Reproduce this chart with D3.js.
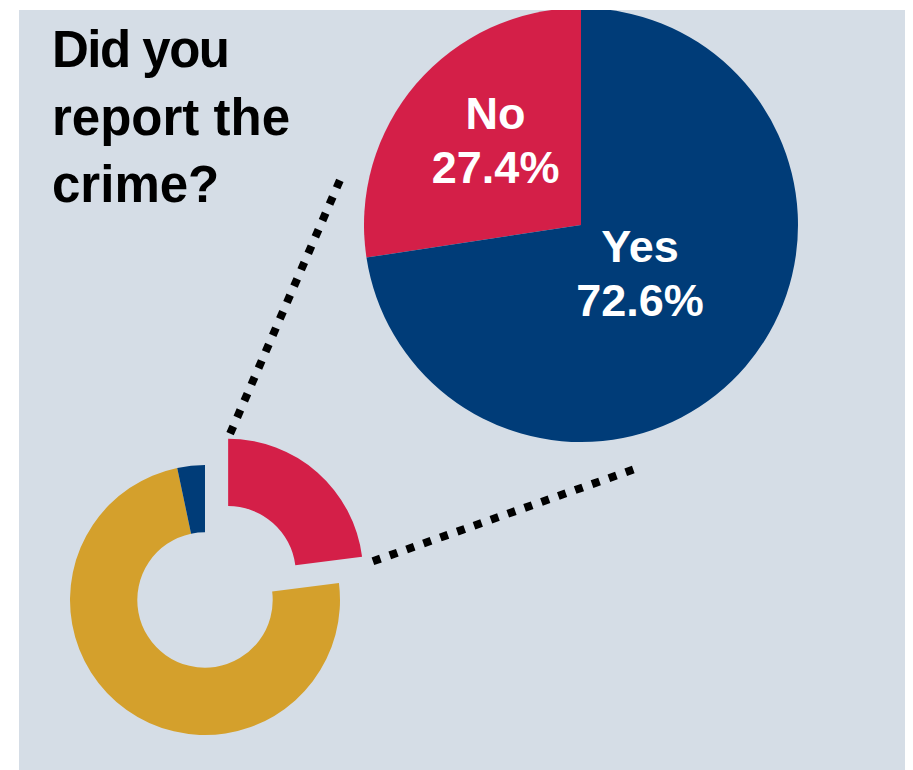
<!DOCTYPE html>
<html>
<head>
<meta charset="utf-8">
<script src="https://cdn.jsdelivr.net/npm/d3@7"></script>
<style>
  html, body { margin: 0; padding: 0; background: #ffffff; }
  svg { display: block; }
  text { font-family: "Liberation Sans", Arial, Helvetica, sans-serif; font-weight: bold; }
</style>
</head>
<body>
<svg id="chart" width="913" height="770"></svg>
<script>
// ---- data ----
const titleLines = ["Did you", "report the", "crime?"];

// Detail pie: whether the crime was reported
const reportCategories = ["No", "Yes"];
const reportValues = [27.4, 72.6];
const reportColors = ["#d41f48", "#003c78"];

// Overview ring: the red segment is the one broken out into the detail pie
const ringCategories = ["Detail", "Other", "Minor"];
const ringValues = [23.0, 73.7, 3.3];
const ringColors = ["#d41f48", "#d4a02c", "#003c78"];

// ---- layout ----
const W = 913, H = 770;
const panel = { x: 19, y: 10, w: 886, h: 760 };
const pieC = { x: 581, y: 225, r: 217 };
const ringC = { x: 205, y: 600, outer: 135, inner: 67.7, explode: 35 };

const svg = d3.select("#chart");

svg.append("defs").append("clipPath").attr("id", "panelClip")
  .append("rect")
  .attr("x", panel.x).attr("y", panel.y)
  .attr("width", panel.w).attr("height", panel.h);

svg.append("rect")
  .attr("x", panel.x).attr("y", panel.y)
  .attr("width", panel.w).attr("height", panel.h)
  .attr("fill", "#d5dde6");

const root = svg.append("g").attr("clip-path", "url(#panelClip)");

// ---- title ----
root.append("text")
  .attr("x", 52).attr("y", 67)
  .attr("font-size", 51)
  .attr("fill", "#000")
  .selectAll("tspan")
  .data(titleLines)
  .join("tspan")
  .attr("x", 52)
  .attr("dy", (d, i) => i === 0 ? 0 : 67.5)
  .attr("letter-spacing", (d, i) => i === 0 ? -1.5 : 0)
  .text(d => d);

// ---- detail pie ----
const tau = 2 * Math.PI;
const noShare = reportValues[0] / d3.sum(reportValues);
const pie = d3.pie().sort(null)
  .startAngle(-noShare * tau)
  .endAngle(tau - noShare * tau);
const pieArcs = pie(reportValues);
const arcPie = d3.arc().innerRadius(0).outerRadius(pieC.r);

const gPie = root.append("g").attr("transform", `translate(${pieC.x},${pieC.y})`);
gPie.selectAll("path")
  .data(pieArcs)
  .join("path")
  .attr("d", arcPie)
  .attr("fill", (d, i) => reportColors[i]);

// label anchors: polar position (angle offset in degrees, radius) per slice
const labelPolar = [{ da: -1.6, r: 110 }, { da: 6.6, r: 87 }];
const lbl = gPie.selectAll("text.lbl")
  .data(pieArcs)
  .join("text")
  .attr("class", "lbl")
  .attr("text-anchor", "middle")
  .attr("font-size", 45)
  .attr("fill", "#fff")
  .attr("transform", (d, i) => {
    const a = (d.startAngle + d.endAngle) / 2 + labelPolar[i].da * Math.PI / 180;
    const r = labelPolar[i].r;
    return `translate(${r * Math.sin(a)},${-r * Math.cos(a)})`;
  });
lbl.append("tspan").attr("x", 0).attr("dy", -27).text((d, i) => reportCategories[i]);
lbl.append("tspan").attr("x", 0).attr("dy", 54.5)
  .text(d => d3.format(".1f")(d.data) + "%");

// ---- overview ring ----
const ringPie = d3.pie().sort(null).startAngle(0).endAngle(tau);
const ringArcs = ringPie(ringValues);
const arcRing = d3.arc().innerRadius(ringC.inner).outerRadius(ringC.outer);

const gRing = root.append("g").attr("transform", `translate(${ringC.x},${ringC.y})`);
gRing.selectAll("path")
  .data(ringArcs)
  .join("path")
  .attr("d", arcRing)
  .attr("fill", (d, i) => ringColors[i])
  .attr("transform", (d, i) => {
    if (i !== 0) return null;
    const a = (d.startAngle + d.endAngle) / 2;
    return `translate(${ringC.explode * Math.sin(a)},${-ringC.explode * Math.cos(a)})`;
  });

// ---- dotted connectors from the broken-out segment to the detail pie ----
const connectors = [
  [[230.1, 433.7], [339.9, 180.3]],
  [[372.9, 561.3], [633.8, 469.4]]
];
root.selectAll("line.conn")
  .data(connectors)
  .join("line")
  .attr("class", "conn")
  .attr("x1", d => d[0][0]).attr("y1", d => d[0][1])
  .attr("x2", d => d[1][0]).attr("y2", d => d[1][1])
  .attr("stroke", "#000")
  .attr("stroke-width", 8)
  .attr("stroke-dasharray", "8 9.87");
</script>
</body>
</html>
